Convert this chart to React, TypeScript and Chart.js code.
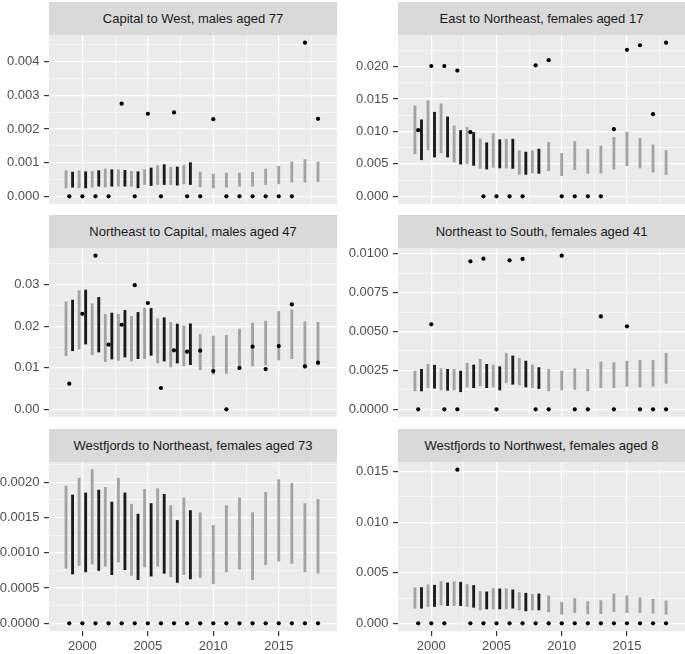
import React, { useEffect, useRef } from "react";
import { Chart, registerables } from "chart.js";
Chart.register(...registerables);

const FONT = "'Liberation Sans', Arial, Helvetica, sans-serif";

// ---------- data ----------
const years = [1999, 2000, 2001, 2002, 2003, 2004, 2005, 2006, 2007, 2008, 2009, 2010, 2011, 2012, 2013, 2014, 2015, 2016, 2017, 2018];
const blackYears = [1999, 2000, 2001, 2002, 2003, 2004, 2005, 2006, 2007, 2008];
const xMajorTicks = [2000, 2005, 2010, 2015];
const xTickLabels = ["2000", "2005", "2010", "2015"];

// Panel 1
const p1Title = "Capital to West, males aged 77";
const p1Points = [0, 0, 0, 0, 0.00275, 0, 0.00245, 0, 0.00249, 0, 0, 0.00229, 0, 0, 0, 0, 0, 0, 0.00456, 0.0023];
const p1GrayHigh = [0.00076, 0.00076, 0.00074, 0.00081, 0.00079, 0.00074, 0.00079, 0.00091, 0.00086, 0.00092, 0.00072, 0.00066, 0.00069, 0.00069, 0.00071, 0.00081, 0.00089, 0.00102, 0.00109, 0.00102];
const p1GrayLow = [0.00025, 0.00025, 0.00027, 0.00028, 0.0003, 0.0003, 0.00035, 0.00035, 0.00035, 0.00037, 0.00028, 0.00025, 0.00027, 0.0003, 0.0003, 0.00035, 0.00037, 0.00042, 0.00042, 0.00044];
const p1BlackHigh = [0.00072, 0.00073, 0.00076, 0.00079, 0.00077, 0.00073, 0.00084, 0.00094, 0.00087, 0.001];
const p1BlackLow = [0.00027, 0.00025, 0.0003, 0.0003, 0.0003, 0.00025, 0.00032, 0.00035, 0.00033, 0.00035];
const p1Ticks = [0, 0.001, 0.002, 0.003, 0.004];
const p1TickLabels = ["0.000", "0.001", "0.002", "0.003", "0.004"];

// Panel 2
const p2Title = "East to Northeast, females aged 17";
const p2Points = [0.0102, 0.0201, 0.0201, 0.0194, 0.0099, 0, 0, 0, 0, 0.0202, 0.021, 0, 0, 0, 0, 0.01036, 0.0226, 0.0233, 0.01267, 0.0237];
const p2GrayHigh = [0.01395, 0.01477, 0.01426, 0.01087, 0.01062, 0.00887, 0.00964, 0.00882, 0.00703, 0.00703, 0.00831, 0.00662, 0.00846, 0.00723, 0.00774, 0.00908, 0.0099, 0.00892, 0.00795, 0.00708];
const p2GrayLow = [0.00656, 0.00718, 0.00672, 0.00528, 0.00503, 0.00431, 0.00446, 0.00436, 0.00338, 0.00359, 0.00395, 0.00318, 0.0041, 0.00354, 0.00359, 0.0042, 0.00472, 0.00436, 0.00374, 0.00338];
const p2BlackHigh = [0.0118, 0.01297, 0.01226, 0.01015, 0.00985, 0.00826, 0.00872, 0.00882, 0.00682, 0.00728];
const p2BlackLow = [0.00564, 0.00605, 0.00605, 0.00497, 0.00477, 0.0042, 0.00436, 0.00431, 0.00338, 0.00354];
const p2Ticks = [0, 0.005, 0.01, 0.015, 0.02];
const p2TickLabels = ["0.000", "0.005", "0.010", "0.015", "0.020"];

// Panel 3
const p3Title = "Northeast to Capital, males aged 47";
const p3Points = [0.00618, 0.023, 0.037, 0.01556, 0.02037, 0.0299, 0.0256, 0.00513, 0.0142, 0.01388, 0.01412, 0.00922, 0, 0.00995, 0.01508, 0.0097, 0.01524, 0.02527, 0.01035, 0.01123];
const p3GrayHigh = [0.0259, 0.02856, 0.02543, 0.02286, 0.02286, 0.02238, 0.02438, 0.02182, 0.02094, 0.02005, 0.01805, 0.01765, 0.01781, 0.01933, 0.02077, 0.02126, 0.02358, 0.02398, 0.0211, 0.02094];
const p3GrayLow = [0.0129, 0.01452, 0.01315, 0.01147, 0.01179, 0.01163, 0.01219, 0.01115, 0.01019, 0.01043, 0.00955, 0.00842, 0.00866, 0.01003, 0.01043, 0.01067, 0.01187, 0.01219, 0.00987, 0.01067];
const p3BlackHigh = [0.0263, 0.02872, 0.02695, 0.02318, 0.02382, 0.02334, 0.0243, 0.02206, 0.02053, 0.02061];
const p3BlackLow = [0.0141, 0.01572, 0.0138, 0.01211, 0.01259, 0.01219, 0.013, 0.01163, 0.01115, 0.01075];
const p3Ticks = [0, 0.01, 0.02, 0.03];
const p3TickLabels = ["0.00", "0.01", "0.02", "0.03"];

// Panel 4
const p4Title = "Northeast to South, females aged 41";
const p4Points = [0, 0.00546, 0, 0, 0.00951, 0.00968, 0, 0.00957, 0.00966, 0, 0, 0.00987, 0, 0, 0.00597, 0, 0.00533, 0, 0, 0];
const p4GrayHigh = [0.00246, 0.00289, 0.00261, 0.00257, 0.00296, 0.00321, 0.00285, 0.0036, 0.00328, 0.00285, 0.00257, 0.00246, 0.00261, 0.00257, 0.00304, 0.003, 0.0031, 0.00315, 0.00315, 0.0036];
const p4GrayLow = [0.00118, 0.00139, 0.00124, 0.00124, 0.00143, 0.0015, 0.00143, 0.00171, 0.00156, 0.00139, 0.00118, 0.00124, 0.00128, 0.00118, 0.00139, 0.00139, 0.00148, 0.00143, 0.00148, 0.00167];
const p4BlackHigh = [0.00257, 0.00283, 0.00257, 0.00246, 0.00285, 0.00289, 0.00274, 0.00343, 0.0031, 0.00268];
const p4BlackLow = [0.00118, 0.00135, 0.00122, 0.00113, 0.00139, 0.00139, 0.00124, 0.00161, 0.00143, 0.00133];
const p4Ticks = [0, 0.0025, 0.005, 0.0075, 0.01];
const p4TickLabels = ["0.0000", "0.0025", "0.0050", "0.0075", "0.0100"];

// Panel 5
const p5Title = "Westfjords to Northeast, females aged 73";
const p5Points = [0, 0, 0, 0, 0, 0, 0, 0, 0, 0, 0, 0, 0, 0, 0, 0, 0, 0, 0, 0];
const p5GrayHigh = [0.00195, 0.00206, 0.00218, 0.00193, 0.00206, 0.00169, 0.0019, 0.00191, 0.00167, 0.00178, 0.00157, 0.00139, 0.00167, 0.00178, 0.00157, 0.00186, 0.00204, 0.00199, 0.0017, 0.00176];
const p5GrayLow = [0.00078, 0.00082, 0.00084, 0.00081, 0.00087, 0.00068, 0.0008, 0.00081, 0.00066, 0.00069, 0.00065, 0.00056, 0.00073, 0.00077, 0.00062, 0.00083, 0.00088, 0.00085, 0.00073, 0.00071];
const p5BlackHigh = [0.00182, 0.00185, 0.00189, 0.00172, 0.00185, 0.00155, 0.0017, 0.00183, 0.00146, 0.0016];
const p5BlackLow = [0.0007, 0.00073, 0.00075, 0.00069, 0.00076, 0.00062, 0.00067, 0.00071, 0.00058, 0.00063];
const p5Ticks = [0, 0.0005, 0.001, 0.0015, 0.002];
const p5TickLabels = ["0.0000", "0.0005", "0.0010", "0.0015", "0.0020"];

// Panel 6
const p6Title = "Westfjords to Northwest, females aged 8";
const p6Points = [0, 0, 0, 0.0152, 0, 0, 0, 0, 0, 0, 0, 0, 0, 0, 0, 0, 0, 0, 0, 0];
const p6GrayHigh = [0.00351, 0.00381, 0.00414, 0.00411, 0.00384, 0.00315, 0.00344, 0.00341, 0.00305, 0.00288, 0.00272, 0.00209, 0.00245, 0.00215, 0.00225, 0.00291, 0.00272, 0.00252, 0.00238, 0.00222];
const p6GrayLow = [0.00149, 0.00166, 0.00182, 0.00175, 0.00166, 0.00132, 0.00142, 0.00142, 0.00132, 0.00132, 0.00113, 0.00089, 0.00106, 0.00093, 0.00096, 0.00116, 0.00106, 0.00106, 0.00099, 0.00089];
const p6BlackHigh = [0.00354, 0.00377, 0.004, 0.00407, 0.00374, 0.00311, 0.00341, 0.00331, 0.00298, 0.00291];
const p6BlackLow = [0.00149, 0.00166, 0.00175, 0.00175, 0.00159, 0.00142, 0.00142, 0.00149, 0.00123, 0.00132];
const p6Ticks = [0, 0.005, 0.01, 0.015];
const p6TickLabels = ["0.000", "0.005", "0.010", "0.015"];

type Panel = {
  title: string;
  points: number[];
  grayHigh: number[];
  grayLow: number[];
  blackHigh: number[];
  blackLow: number[];
  ticks: number[];
  tickLabels: string[];
};

const panels: Panel[] = [
  { title: p1Title, points: p1Points, grayHigh: p1GrayHigh, grayLow: p1GrayLow, blackHigh: p1BlackHigh, blackLow: p1BlackLow, ticks: p1Ticks, tickLabels: p1TickLabels },
  { title: p2Title, points: p2Points, grayHigh: p2GrayHigh, grayLow: p2GrayLow, blackHigh: p2BlackHigh, blackLow: p2BlackLow, ticks: p2Ticks, tickLabels: p2TickLabels },
  { title: p3Title, points: p3Points, grayHigh: p3GrayHigh, grayLow: p3GrayLow, blackHigh: p3BlackHigh, blackLow: p3BlackLow, ticks: p3Ticks, tickLabels: p3TickLabels },
  { title: p4Title, points: p4Points, grayHigh: p4GrayHigh, grayLow: p4GrayLow, blackHigh: p4BlackHigh, blackLow: p4BlackLow, ticks: p4Ticks, tickLabels: p4TickLabels },
  { title: p5Title, points: p5Points, grayHigh: p5GrayHigh, grayLow: p5GrayLow, blackHigh: p5BlackHigh, blackLow: p5BlackLow, ticks: p5Ticks, tickLabels: p5TickLabels },
  { title: p6Title, points: p6Points, grayHigh: p6GrayHigh, grayLow: p6GrayLow, blackHigh: p6BlackHigh, blackLow: p6BlackLow, ticks: p6Ticks, tickLabels: p6TickLabels },
];

// ---------- styling / layout ----------
const PANEL_BG = "#ebebeb";
const STRIP_BG = "#d9d9d9";
const GRAY_BAR = "#a3a3a3";
const BLACK_BAR = "#1a1a1a";
const TICK_COLOR = "#333333";
const LABEL_COLOR = "#4d4d4d";
const X_MIN = 1997.45;
const X_MAX = 2019.45;
const DODGE = 0.25;

const bgPlugin = {
  id: "panelBg",
  beforeDraw(chart: any) {
    const { ctx, chartArea } = chart;
    ctx.save();
    ctx.fillStyle = PANEL_BG;
    ctx.fillRect(chartArea.left, chartArea.top, chartArea.right - chartArea.left, chartArea.bottom - chartArea.top);
    ctx.restore();
  },
};

function buildTickList(majors: number[], labels: string[], min: number, max: number) {
  const step = majors[1] - majors[0];
  const list: any[] = [];
  const minors: number[] = [];
  minors.push(majors[0] - step / 2);
  majors.forEach((m) => minors.push(m + step / 2));
  majors.forEach((m, i) => {
    if (m >= min && m <= max) list.push({ value: m, lbl: labels[i], minor: false });
  });
  minors.forEach((m) => {
    if (m > min && m < max) list.push({ value: m, lbl: "", minor: true });
  });
  list.sort((a, b) => a.value - b.value);
  return list;
}

function Facet({ panel, col, row }: { panel: Panel; col: number; row: number }) {
  const ref = useRef<HTMLCanvasElement>(null);
  const isBottom = row === 2;
  const canvasLeft = col === 0 ? 0 : 340;
  const canvasWidth = col === 0 ? 337 : 345;
  const axisW = col === 0 ? 49 : 58;
  const stripTop = [2, 215, 429][row];
  const stripH = 33;
  const panelTop = stripTop + stripH;
  const panelH = 169;
  const xAxisH = isBottom ? 23 : 0;
  const canvasH = panelH + xAxisH;

  useEffect(() => {
    if (!ref.current) return;
    const allVals = [...panel.points, ...panel.grayHigh, ...panel.grayLow, ...panel.blackHigh, ...panel.blackLow];
    const lo = Math.min(...allVals);
    const hi = Math.max(...allVals);
    const pad = (hi - lo) * 0.05;
    const yMin = lo - pad;
    const yMax = hi + pad;

    const grayData = years.map((yr, i) => ({
      x: blackYears.includes(yr) ? yr - DODGE : yr,
      y: [panel.grayLow[i], panel.grayHigh[i]],
    }));
    const blackData = blackYears.map((yr, i) => ({
      x: yr + DODGE,
      y: [panel.blackLow[i], panel.blackHigh[i]],
    }));
    const pointData = years.map((yr, i) => ({ x: yr, y: panel.points[i] }));

    const yTickList = buildTickList(panel.ticks, panel.tickLabels, yMin, yMax);
    const xTickList = buildTickList(xMajorTicks, xTickLabels, X_MIN, X_MAX).filter((t) => t.value > 1998);

    const zeroPad = (s: any) => {
      s.paddingTop = 0;
      s.paddingBottom = 0;
      s.paddingLeft = 0;
      s.paddingRight = 0;
    };

    const gridOpts = {
      color: "#ffffff",
      offset: false,
      lineWidth: (c: any) => (c.tick && c.tick.minor ? 0.6 : 1.2),
      tickColor: (c: any) => (c.tick && !c.tick.minor ? TICK_COLOR : "rgba(0,0,0,0)"),
      tickWidth: 1.2,
      tickLength: 5,
    };

    const chart = new Chart(ref.current, {
      data: {
        datasets: [
          {
            type: "scatter",
            data: pointData,
            pointRadius: 2.1,
            pointBorderWidth: 0,
            borderWidth: 0,
            pointBackgroundColor: "#000000",
            order: 0,
          } as any,
          {
            type: "bar",
            data: blackData,
            backgroundColor: BLACK_BAR,
            barThickness: 2.2,
            grouped: false,
            borderWidth: 0,
            order: 1,
          } as any,
          {
            type: "bar",
            data: grayData,
            backgroundColor: GRAY_BAR,
            barThickness: 2.2,
            grouped: false,
            borderWidth: 0,
            order: 2,
          } as any,
        ],
      },
      options: {
        animation: false,
        responsive: false,
        maintainAspectRatio: false,
        events: [],
        layout: { padding: 0, autoPadding: false },
        plugins: { legend: { display: false }, tooltip: { enabled: false }, title: { display: false } },
        scales: {
          x: {
            type: "linear",
            min: X_MIN,
            max: X_MAX,
            bounds: "data",
            offset: false,
            border: { display: false },
            grid: { ...gridOpts, drawTicks: isBottom },
            ticks: {
              display: isBottom,
              autoSkip: false,
              maxRotation: 0,
              padding: 3,
              color: LABEL_COLOR,
              font: { family: FONT, size: 13 },
              callback: (_v: any, i: number, ticks: any[]) => ticks[i].lbl,
            },
            afterBuildTicks: (s: any) => {
              s.ticks = xTickList.map((t) => ({ ...t }));
            },
            afterFit: (s: any) => {
              s.height = xAxisH;
              zeroPad(s);
            },
          },
          y: {
            type: "linear",
            min: yMin,
            max: yMax,
            bounds: "data",
            offset: false,
            border: { display: false },
            grid: gridOpts,
            ticks: {
              autoSkip: false,
              padding: 4.5,
              color: LABEL_COLOR,
              font: { family: FONT, size: 13 },
              callback: (_v: any, i: number, ticks: any[]) => ticks[i].lbl,
            },
            afterBuildTicks: (s: any) => {
              s.ticks = yTickList.map((t) => ({ ...t }));
            },
            afterFit: (s: any) => {
              s.width = axisW;
              zeroPad(s);
            },
          },
        },
      } as any,
      plugins: [bgPlugin],
    });
    return () => chart.destroy();
  }, []);

  return (
    <>
      <div
        style={{
          position: "absolute",
          left: canvasLeft + axisW,
          top: stripTop,
          width: canvasWidth - axisW,
          height: stripH,
          background: STRIP_BG,
          color: "#1a1a1a",
          fontFamily: FONT,
          fontSize: 13,
          display: "flex",
          alignItems: "center",
          justifyContent: "center",
          whiteSpace: "nowrap",
        }}
      >
        {panel.title}
      </div>
      <canvas
        ref={ref}
        width={canvasWidth}
        height={canvasH}
        style={{ position: "absolute", left: canvasLeft, top: panelTop, width: canvasWidth, height: canvasH }}
      />
    </>
  );
}

export default function App() {
  return (
    <div style={{ position: "absolute", left: 0, top: 0, width: 685, height: 654, background: "#ffffff", overflow: "hidden" }}>
      {panels.map((p, i) => (
        <Facet key={i} panel={p} col={i % 2} row={Math.floor(i / 2)} />
      ))}
    </div>
  );
}
